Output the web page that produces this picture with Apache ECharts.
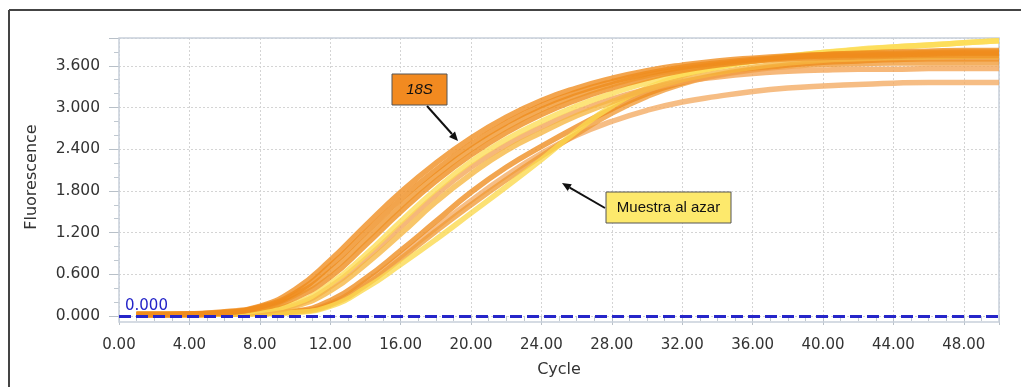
<!DOCTYPE html>
<html>
<head>
<meta charset="utf-8">
<script src="https://cdn.jsdelivr.net/npm/echarts@6/dist/echarts.min.js"></script>
<style>html,body{margin:0;padding:0;background:#fff;}#chart{width:1021px;height:387px;}</style>
</head>
<body>
<div id="chart"></div>
<script>
const cycles = [1,2,4,6,8,10,12,14,16,18,20,22,24,26,28,30,32,34,36,38,40,42,44,46,48,50];

// Amplification curves (fluorescence)
const curve1  = [0.02,0.02,0.03,0.06,0.14,0.38,0.80,1.30,1.78,2.20,2.56,2.86,3.10,3.28,3.42,3.53,3.61,3.67,3.71,3.74,3.76,3.77,3.78,3.79,3.80,3.80];
const curve2  = [0.02,0.02,0.03,0.05,0.13,0.33,0.72,1.20,1.68,2.10,2.47,2.78,3.03,3.22,3.37,3.49,3.58,3.64,3.69,3.72,3.74,3.75,3.76,3.77,3.78,3.78];
const curve3  = [0.02,0.02,0.03,0.05,0.12,0.30,0.64,1.10,1.58,2.02,2.40,2.71,2.97,3.17,3.33,3.46,3.55,3.62,3.67,3.70,3.72,3.73,3.74,3.75,3.75,3.75];
const curve4  = [0.02,0.02,0.02,0.05,0.11,0.26,0.56,1.02,1.50,1.94,2.32,2.64,2.90,3.11,3.28,3.42,3.53,3.61,3.67,3.72,3.76,3.78,3.80,3.81,3.82,3.82];
const curve5  = [0.02,0.02,0.02,0.04,0.08,0.18,0.46,0.88,1.36,1.82,2.22,2.54,2.80,3.02,3.20,3.36,3.48,3.58,3.66,3.73,3.79,3.84,3.87,3.90,3.93,3.96];
const curve6  = [0.02,0.02,0.02,0.04,0.07,0.16,0.42,0.82,1.28,1.74,2.14,2.46,2.72,2.94,3.12,3.26,3.37,3.44,3.49,3.52,3.54,3.55,3.55,3.56,3.56,3.56];
const curve7  = [0.02,0.02,0.02,0.03,0.06,0.14,0.36,0.74,1.18,1.64,2.04,2.38,2.64,2.88,3.08,3.26,3.40,3.50,3.58,3.64,3.68,3.70,3.72,3.73,3.74,3.74];
const curve8  = [0.02,0.02,0.02,0.03,0.04,0.07,0.22,0.54,0.94,1.36,1.78,2.14,2.44,2.72,2.98,3.20,3.36,3.47,3.55,3.61,3.65,3.67,3.69,3.70,3.70,3.70];
const curve9  = [0.02,0.02,0.02,0.03,0.04,0.06,0.18,0.48,0.86,1.27,1.66,2.02,2.34,2.60,2.80,2.96,3.08,3.16,3.23,3.28,3.31,3.33,3.35,3.36,3.36,3.36];
const curve10 = [0.02,0.02,0.02,0.03,0.04,0.06,0.16,0.44,0.82,1.22,1.60,1.96,2.30,2.62,2.92,3.16,3.34,3.46,3.54,3.59,3.62,3.63,3.64,3.64,3.64,3.64];
const curve11 = [0.02,0.02,0.02,0.03,0.03,0.05,0.14,0.40,0.74,1.10,1.48,1.86,2.25,2.66,3.02,3.28,3.46,3.58,3.67,3.74,3.79,3.83,3.87,3.90,3.93,3.96];

const curves = [curve9, curve10, curve8, curve11, curve6, curve7, curve5, curve4, curve3, curve2, curve1];
const curveColors = ['#f4aa62','#f19a34','#ee8c1e','#fbd84c','#f4a455','#f6b640','#fcdc55','#ee8a1a','#f09428','#ee8a1a','#ef8c1c'];

const thresholdValue = 0;
const xTicks = {min: 0, max: 50, interval: 4};
const yTicks = {min: 0, max: 4.0, interval: 0.6};

const chart = echarts.init(document.getElementById('chart'));

const series = curves.map((c, i) => ({
  type: 'line',
  data: cycles.map((x, j) => [x, c[j]]),
  smooth: true,
  showSymbol: false,
  lineStyle: {color: curveColors[i], width: 5.5, opacity: 0.78},
  z: 2
}));

series.push({
  type: 'line',
  data: [],
  z: 5,
  markLine: {
    silent: true,
    symbol: 'none',
    data: [{yAxis: thresholdValue}],
    lineStyle: {color: '#2626c9', width: 3, type: [12, 5]},
    label: {
      position: 'insideStartTop',
      formatter: () => thresholdValue.toFixed(3),
      color: '#2424c8',
      fontSize: 15,
      fontFamily: 'DejaVu Sans',
      distance: [6, 2]
    }
  }
});

const tickFont = {fontFamily: 'DejaVu Sans', fontSize: 15, color: '#333'};
const nameFont = {fontFamily: 'DejaVu Sans', fontSize: 16, color: '#333'};

chart.setOption({
  animation: false,
  backgroundColor: '#fff',
  grid: {left: 119, right: 22, top: 38, bottom: 71},
  xAxis: {
    type: 'value',
    min: xTicks.min, max: xTicks.max, interval: xTicks.interval,
    offset: 6,
    name: 'Cycle',
    nameLocation: 'middle',
    nameGap: 40,
    nameTextStyle: nameFont,
    axisLine: {show: false},
    axisTick: {show: true, length: 9, lineStyle: {color: '#b8c0c8'}},
    minorTick: {show: true, splitNumber: 4, length: 5, lineStyle: {color: '#c0c8d0'}},
    axisLabel: Object.assign({margin: 16, showMaxLabel: false, formatter: v => v.toFixed(2)}, tickFont),
    splitLine: {show: true, lineStyle: {color: '#d4d4d4', type: [2, 2]}}
  },
  yAxis: {
    type: 'value',
    min: yTicks.min, max: yTicks.max, interval: yTicks.interval,
    name: 'Fluorescence',
    nameLocation: 'middle',
    nameGap: 79,
    nameTextStyle: nameFont,
    axisLine: {show: false},
    axisTick: {show: true, length: 10, lineStyle: {color: '#b8c0c8'}},
    minorTick: {show: true, splitNumber: 3, length: 5, lineStyle: {color: '#c0c8d0'}},
    axisLabel: Object.assign({margin: 19, showMaxLabel: false, formatter: v => v.toFixed(3)}, tickFont, {fontSize: 15.5}),
    splitLine: {show: true, lineStyle: {color: '#d4d4d4', type: [2, 2]}}
  },
  series: series,
  graphic: [
    {type: 'line', shape: {x1: 9, y1: 10, x2: 1021, y2: 10}, style: {stroke: '#444', lineWidth: 2}},
    {type: 'line', shape: {x1: 9, y1: 10, x2: 9, y2: 387}, style: {stroke: '#444', lineWidth: 2}},
    {type: 'rect', shape: {x: 119, y: 38, width: 880, height: 284}, style: {fill: null, stroke: '#c8d0da', lineWidth: 1.5}, z: 1},
    // 18S annotation
    {type: 'line', shape: {x1: 427, y1: 106, x2: 452, y2: 134}, style: {stroke: '#111', lineWidth: 2}, z: 10},
    {type: 'polygon', shape: {points: [[458, 141], [449, 136.9], [455, 131.6]]}, style: {fill: '#111'}, z: 10},
    {type: 'rect', shape: {x: 392, y: 74, width: 55, height: 31}, style: {fill: '#f28a20', stroke: '#555', lineWidth: 1}, z: 10},
    {type: 'text', style: {text: '18S', x: 419.5, y: 90, align: 'center', verticalAlign: 'middle', font: 'italic 15px "Liberation Sans"', fill: '#111'}, z: 11},
    // Muestra al azar annotation
    {type: 'line', shape: {x1: 605, y1: 208, x2: 569.7, y2: 187.6}, style: {stroke: '#111', lineWidth: 2}, z: 10},
    {type: 'polygon', shape: {points: [[562, 183], [571.8, 184.2], [567.7, 191.0]]}, style: {fill: '#111'}, z: 10},
    {type: 'rect', shape: {x: 606, y: 192, width: 125, height: 31}, style: {fill: '#fde96c', stroke: '#555', lineWidth: 1}, z: 10},
    {type: 'text', style: {text: 'Muestra al azar', x: 668.5, y: 208, align: 'center', verticalAlign: 'middle', font: '15px "Liberation Sans"', fill: '#111'}, z: 11}
  ]
});
</script>
</body>
</html>
